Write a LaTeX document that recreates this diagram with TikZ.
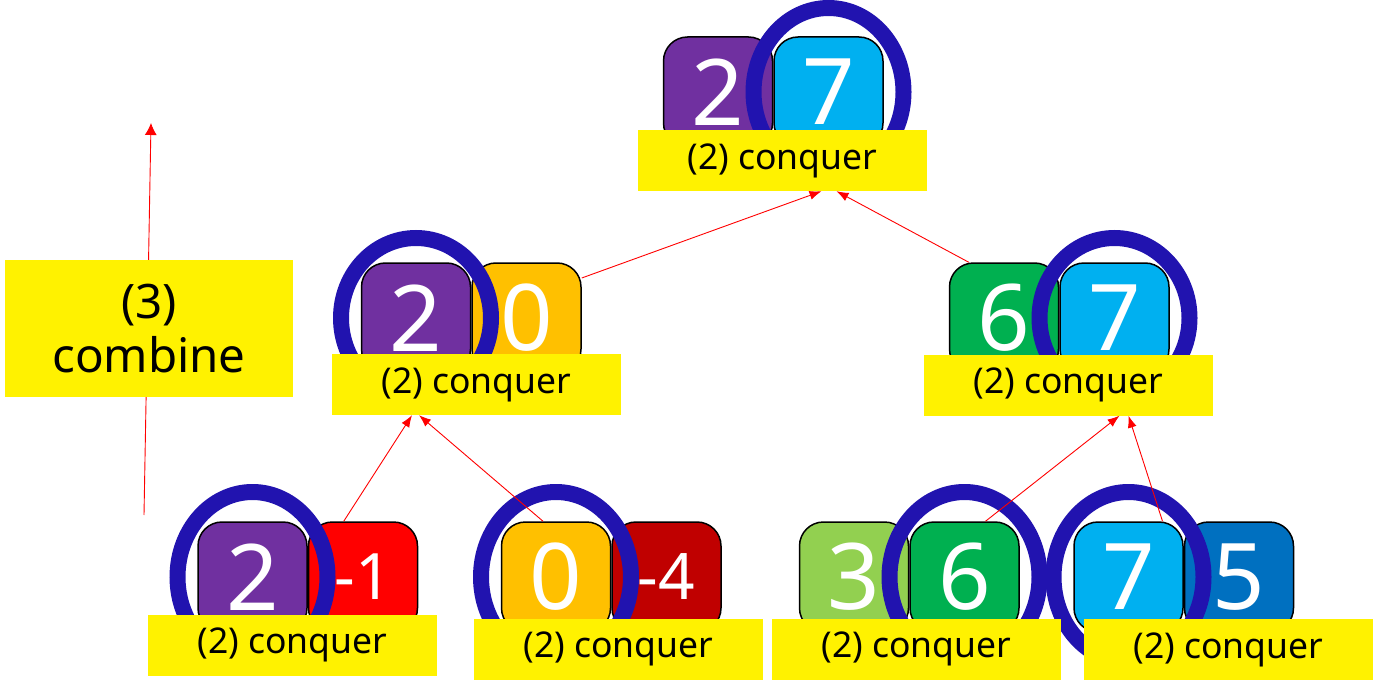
\documentclass[tikz,border=0pt]{standalone}
\usepackage{fontspec}
\setmainfont{Noto Sans}
\usetikzlibrary{arrows.meta,positioning,calc}
\definecolor{tilepurple}{HTML}{7030A0}
\definecolor{tilecyan}{HTML}{00B0F0}
\definecolor{tileorange}{HTML}{FFC000}
\definecolor{tilered}{HTML}{FF0000}
\definecolor{tiledarkred}{HTML}{C00000}
\definecolor{tilelime}{HTML}{92D050}
\definecolor{tilegreen}{HTML}{00B050}
\definecolor{tileblue}{HTML}{0070C0}
\definecolor{ringblue}{RGB}{33,19,175}

\begin{document}
\begin{tikzpicture}[x=1pt,y=-1pt,
  tile/.style={draw=black, line width=1.5pt, rounded corners=24pt, minimum width=109pt,
    minimum height=110pt, inner sep=0pt, text=white, font=\fontsize{92}{92}\selectfont},
  negtile/.style={tile, font=\fontsize{64}{64}\selectfont},
  ring/.style={draw=ringblue, line width=16pt},
  tag/.style={fill=yellow, minimum width=289pt, minimum height=61pt, inner sep=0pt,
    font=\fontsize{35.5}{35.5}\selectfont},
  link/.style={red, line width=0.9pt, -{Latex[length=12pt,width=9pt]}}]
\useasboundingbox (0,0) rectangle (1379,690);

% top
\node[tile, fill=tilepurple] (t2) at (718,92) {2};
\node[tile, fill=tilecyan, right=0pt of t2] (t7) {7};
% middle
\node[tile, fill=tilepurple] (m2) at (416,318) {2};
\node[tile, fill=tileorange, right=0pt of m2] (m0) {0};
\node[tile, fill=tilegreen] (m6) at (1004,318) {6};
\node[tile, fill=tilecyan, right=0pt of m6] (m7) {7};
% bottom
\node[tile, fill=tilepurple] (b1a) at (252.5,577) {2};
\node[negtile, fill=tilered, right=0pt of b1a] (b1r) {-1};
\node[tile, fill=tileorange] (b2a) at (556,577) {0};
\node[negtile, fill=tiledarkred, right=0pt of b2a] (b2b) {-4};
\node[tile, fill=tilelime] (b3a) at (854,577) {3};
\node[tile, fill=tilegreen, right=0pt of b3a] (b3b) {6};
\node[tile, fill=tilecyan] (b4a) at (1128.5,577) {7};
\node[tile, fill=tileblue, right=0pt of b4a] (b4b) {5};

% winners
\draw[ring] (t7.center) ellipse [x radius=75pt, y radius=84pt];
\draw[ring] (m2.center) ellipse [x radius=75pt, y radius=80pt];
\draw[ring] (m7.center) ellipse [x radius=75pt, y radius=80pt];
\draw[ring] (b1a.center) ellipse [x radius=75pt, y radius=85pt];
\draw[ring] (b2a.center) ellipse [x radius=75pt, y radius=85pt];
\draw[ring] (b3b.center) ellipse [x radius=75pt, y radius=85pt];
\draw[ring] (b4a.center) ellipse [x radius=75pt, y radius=85pt];

\node[tag] (ltop) at (782.5,160.5) {(2) conquer};
\node[tag] (lml) at (476.5,384.5) {(2) conquer};
\node[tag] (lmr) at (1068.5,385) {(2) conquer};

\draw[link] ([xshift=36pt]b1r.north west) -- ($(m2.center |- lml.south)+(-4,0)$);
\draw[link] ([xshift=-13pt]b2a.north) -- ($(m2.center |- lml.south)+(3,0)$);
\draw[link] ([xshift=21pt]b3b.north) -- ($(m7.center |- lmr.south)+(5,0)$);
\draw[link] ([xshift=34pt]b4a.north) -- ($(m7.center |- lmr.south)+(14,0)$);
\draw[link] ([yshift=40pt]m0.east) -- ($(t7.center |- ltop.south)+(-7,0)$);
\draw[link] ([xshift=20pt]m6.north west) -- ($(t7.center |- ltop.south)+(8,0)$);
\coordinate (cfoot) at (144,515);
\coordinate (chead) at (151,123);
\draw[link, -{Latex[length=12pt,width=12pt]}] (cfoot) -- (chead);

\node[tag] (lb1) at (292.5,645) {(2) conquer};
\node[tag] (lb2) at (618.5,649) {(2) conquer};
\node[tag] (lb3) at (916.5,649) {(2) conquer};
\node[tag] (lb4) at (1228.5,649.5) {(2) conquer};
\node[tag, minimum width=288pt, minimum height=137pt, align=center,
  font=\fontsize{47.5}{54}\selectfont] (lcomb) at (149,328.5) {(3)\\combine};
\end{tikzpicture}
\end{document}
